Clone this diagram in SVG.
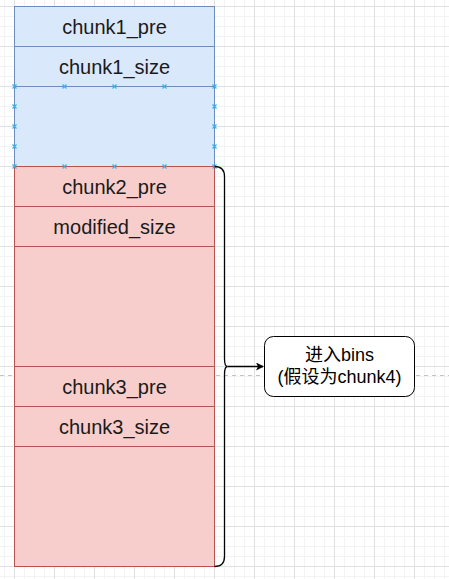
<svg xmlns="http://www.w3.org/2000/svg" width="449" height="579" viewBox="0 0 449 579">
<defs>
<pattern id="minor" x="4" y="6" width="10" height="10" patternUnits="userSpaceOnUse">
<path d="M0.5,0 V10 M0,0.5 H10" fill="none" stroke="#f3f3f3" stroke-width="1"/>
</pattern>
<pattern id="major" x="14" y="6" width="40" height="40" patternUnits="userSpaceOnUse">
<path d="M0.5,0 V40 M0,0.5 H40" fill="none" stroke="#e0e0e0" stroke-width="1"/>
</pattern>
<marker id="arr" markerWidth="10" markerHeight="10" refX="7" refY="4" orient="auto" markerUnits="userSpaceOnUse">
<path d="M0,0 L8,4 L0,8 L2,4 Z" fill="#000"/>
</marker>
</defs>
<style>
.blue{fill:#dae8fc;stroke:#6c8ebf;stroke-width:1}
.red{fill:#f8cecc;stroke:#b85450;stroke-width:1}
.t{font-family:"Liberation Sans",Arial,sans-serif;font-size:20px;fill:#1a1a1a;text-anchor:middle}
.bt{font-family:"Liberation Sans","Noto Sans CJK SC",sans-serif;font-size:18px;fill:#000;text-anchor:middle}
.x{stroke:#29b6f2;stroke-width:1.2;fill:none}
</style>
<rect width="449" height="579" fill="#fff"/>
<rect width="449" height="579" fill="url(#minor)"/>
<rect width="449" height="579" fill="url(#major)"/>
<line x1="0" y1="375.5" x2="449" y2="375.5" stroke="#c4c4c4" stroke-width="1" stroke-dasharray="4 4"/>
<g id="chunk1_pre"><rect class="blue" x="14.5" y="6.5" width="200" height="40"/><text class="t" x="114.5" y="33.5">chunk1_pre</text></g>
<g id="chunk1_size"><rect class="blue" x="14.5" y="46.5" width="200" height="40"/><text class="t" x="114.5" y="73.5">chunk1_size</text></g>
<g id="chunk1_data"><rect class="blue" x="14.5" y="86.5" width="200" height="80"/></g>
<g id="chunk2_pre"><rect class="red" x="14.5" y="166.5" width="200" height="40"/><text class="t" x="114.5" y="193.5">chunk2_pre</text></g>
<g id="modified_size"><rect class="red" x="14.5" y="206.5" width="200" height="40"/><text class="t" x="114.5" y="233.5">modified_size</text></g>
<g id="chunk2_data"><rect class="red" x="14.5" y="246.5" width="200" height="120"/></g>
<g id="chunk3_pre"><rect class="red" x="14.5" y="366.5" width="200" height="40"/><text class="t" x="114.5" y="393.5">chunk3_pre</text></g>
<g id="chunk3_size"><rect class="red" x="14.5" y="406.5" width="200" height="40"/><text class="t" x="114.5" y="433.5">chunk3_size</text></g>
<g id="chunk3_data"><rect class="red" x="14.5" y="446.5" width="200" height="120"/></g>
<path class="x" d="M12.5,84.5l4,4m0,-4l-4,4 M62.5,84.5l4,4m0,-4l-4,4 M112.5,84.5l4,4m0,-4l-4,4 M162.5,84.5l4,4m0,-4l-4,4 M212.5,84.5l4,4m0,-4l-4,4 M12.5,164.5l4,4m0,-4l-4,4 M62.5,164.5l4,4m0,-4l-4,4 M112.5,164.5l4,4m0,-4l-4,4 M162.5,164.5l4,4m0,-4l-4,4 M212.5,164.5l4,4m0,-4l-4,4 M12.5,104.5l4,4m0,-4l-4,4 M12.5,124.5l4,4m0,-4l-4,4 M12.5,144.5l4,4m0,-4l-4,4 M212.5,104.5l4,4m0,-4l-4,4 M212.5,124.5l4,4m0,-4l-4,4 M212.5,144.5l4,4m0,-4l-4,4"/>
<g id="brace"><path d="M214.5,166.5 Q224.5,166.5 224.5,176.5 L224.5,358.5 Q224.5,366.5 227.5,366.5 Q224.5,366.5 224.5,374.5 L224.5,556.5 Q224.5,566.5 214.5,566.5" fill="none" stroke="#000" stroke-width="1.3"/></g>
<g id="connectors"><line x1="227.5" y1="366.5" x2="263" y2="366.5" stroke="#000" stroke-width="1.3" marker-end="url(#arr)"/></g>
<g id="bins"><rect x="264.5" y="336.5" width="150" height="60" rx="9" fill="#fff" stroke="#000" stroke-width="1"/>
<text class="bt" x="339.5" y="360.5">进入bins</text>
<text class="bt" x="339.5" y="383">(假设为chunk4)</text></g>
</svg>
